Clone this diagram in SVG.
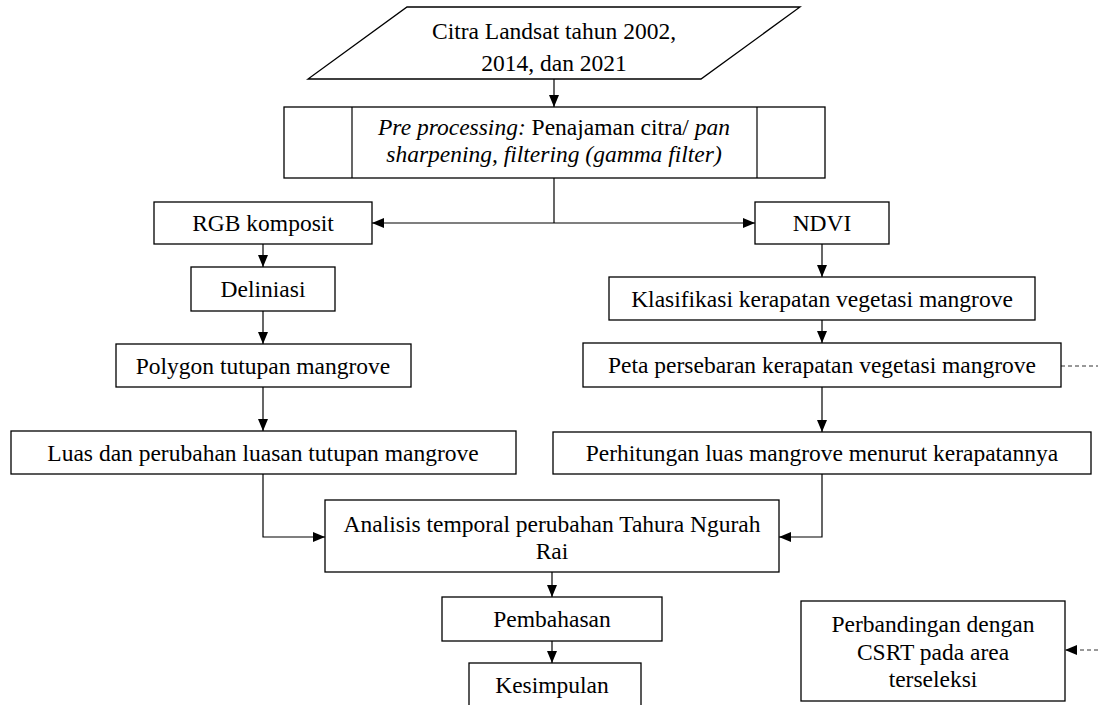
<svg xmlns="http://www.w3.org/2000/svg" width="1098" height="705" viewBox="0 0 1098 705">
<style>
.b{fill:#fff;stroke:#000;stroke-width:1.3}
.t{font-family:"Liberation Serif","Times New Roman",serif;font-size:23.5px;fill:#000;text-anchor:middle}
.i{font-style:italic}
.c{fill:none;stroke:#000;stroke-width:1.2}
.d{fill:none;stroke:#333;stroke-width:1;stroke-dasharray:4 3}
</style>
<defs>
<marker id="a" markerUnits="userSpaceOnUse" markerWidth="12" markerHeight="12" viewBox="0 0 12 12" refX="12" refY="6" orient="auto">
<path d="M0,1 L12,6 L0,11 Z" fill="#000"/>
</marker>
</defs>
<rect width="1098" height="705" fill="#fff"/>
<g id="connectors">
<path class="c" d="M554,79 V107" marker-end="url(#a)"/>
<path class="c" d="M554,178 V223"/>
<path class="c" d="M554,223 H372" marker-end="url(#a)"/>
<path class="c" d="M554,223 H755" marker-end="url(#a)"/>
<path class="c" d="M263,244 V267" marker-end="url(#a)"/>
<path class="c" d="M263,311 V344" marker-end="url(#a)"/>
<path class="c" d="M263,387 V431" marker-end="url(#a)"/>
<path class="c" d="M822,244 V277" marker-end="url(#a)"/>
<path class="c" d="M822,320 V343" marker-end="url(#a)"/>
<path class="c" d="M822,387 V432" marker-end="url(#a)"/>
<path class="c" d="M263,474 V537 H325" marker-end="url(#a)"/>
<path class="c" d="M822,474 V537 H779" marker-end="url(#a)"/>
<path class="c" d="M552,572 V597" marker-end="url(#a)"/>
<path class="c" d="M552,641 V663" marker-end="url(#a)"/>
<path class="d" d="M1061,366 H1098"/>
<path class="d" d="M1098,650 H1065" marker-end="url(#a)"/>
</g>
<g id="n-citra">
<polygon class="b" points="407,7 800,7 701,79 308,79"/>
<text class="t" x="554" y="39">Citra Landsat tahun 2002,</text>
<text class="t" x="554" y="71">2014, dan 2021</text>
</g>
<g id="n-pre">
<rect class="b" x="284" y="107" width="541" height="71"/>
<line class="c" x1="352" y1="107" x2="352" y2="178"/>
<line class="c" x1="757" y1="107" x2="757" y2="178"/>
<text class="t" x="554" y="135"><tspan class="i">Pre processing:</tspan> Penajaman citra/ <tspan class="i">pan</tspan></text>
<text class="t i" x="554" y="162">sharpening, filtering (gamma filter)</text>
</g>
<g id="n-rgb">
<rect class="b" x="154" y="202" width="218" height="42"/>
<text class="t" x="263" y="231">RGB komposit</text>
</g>
<g id="n-ndvi">
<rect class="b" x="755" y="202" width="134" height="42"/>
<text class="t" x="822" y="231">NDVI</text>
</g>
<g id="n-deliniasi">
<rect class="b" x="191" y="267" width="144" height="44"/>
<text class="t" x="263" y="297">Deliniasi</text>
</g>
<g id="n-polygon">
<rect class="b" x="116" y="344" width="295" height="43"/>
<text class="t" x="263" y="374">Polygon tutupan mangrove</text>
</g>
<g id="n-luas">
<rect class="b" x="11" y="431" width="505" height="43"/>
<text class="t" x="263" y="461">Luas dan perubahan luasan tutupan mangrove</text>
</g>
<g id="n-klasifikasi">
<rect class="b" x="609" y="277" width="426" height="43"/>
<text class="t" x="822" y="307">Klasifikasi kerapatan vegetasi mangrove</text>
</g>
<g id="n-peta">
<rect class="b" x="583" y="343" width="478" height="44"/>
<text class="t" x="822" y="373">Peta persebaran kerapatan vegetasi mangrove</text>
</g>
<g id="n-perhitungan">
<rect class="b" x="553" y="432" width="538" height="42"/>
<text class="t" x="822" y="461">Perhitungan luas mangrove menurut kerapatannya</text>
</g>
<g id="n-analisis">
<rect class="b" x="325" y="500" width="454" height="72"/>
<text class="t" x="552" y="532">Analisis temporal perubahan Tahura Ngurah</text>
<text class="t" x="552" y="559">Rai</text>
</g>
<g id="n-pembahasan">
<rect class="b" x="442" y="597" width="220" height="44"/>
<text class="t" x="552" y="627">Pembahasan</text>
</g>
<g id="n-kesimpulan">
<rect class="b" x="469" y="663" width="172" height="46"/>
<text class="t" x="552" y="693">Kesimpulan</text>
</g>
<g id="n-perbandingan">
<rect class="b" x="801" y="601" width="264" height="100"/>
<text class="t" x="933" y="632">Perbandingan dengan</text>
<text class="t" x="933" y="660">CSRT pada area</text>
<text class="t" x="933" y="687">terseleksi</text>
</g>
</svg>
